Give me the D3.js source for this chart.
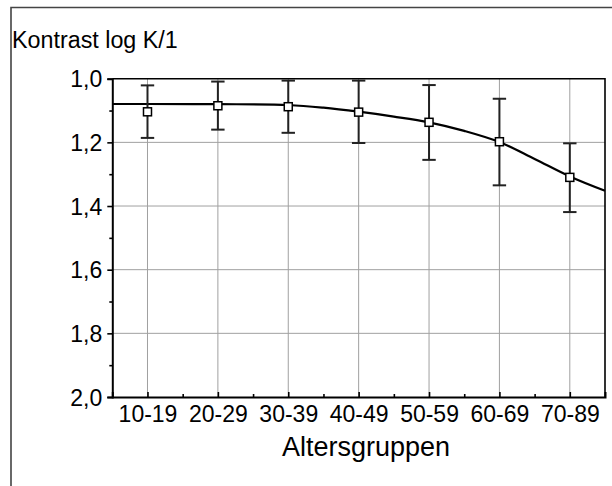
<!DOCTYPE html>
<html><head><meta charset="utf-8">
<script src="https://cdn.jsdelivr.net/npm/d3@7"></script>
<style>html,body{margin:0;padding:0;background:#fff;}svg{display:block;font-family:"Liberation Sans",Arial,sans-serif;}</style>
</head><body>
<svg id="c" width="612" height="486"></svg>
<script>
const categories = ["10-19","20-29","30-39","40-49","50-59","60-69","70-89"];
const means = [1.104, 1.085, 1.088, 1.105, 1.137, 1.198, 1.310];
const errLow = [1.021, 1.009, 1.006, 1.006, 1.020, 1.063, 1.203];
const errHigh = [1.186, 1.160, 1.170, 1.202, 1.255, 1.335, 1.419];
const fitX = [0.5, 1, 2, 3, 3.5, 4, 4.5, 5, 5.5, 6, 6.5, 7, 7.5];
const fitY = [1.0795, 1.0795, 1.080, 1.0826, 1.091, 1.1037, 1.119, 1.137, 1.164, 1.199, 1.252, 1.307, 1.352];
const yTicks = [1.0, 1.2, 1.4, 1.6, 1.8, 2.0];
const yMinor = [1.1, 1.3, 1.5, 1.7, 1.9];
const yGrid = [1.2, 1.4, 1.6, 1.8];
const xMinor = [1.5, 2.5, 3.5, 4.5, 5.5, 6.5];

const svg = d3.select("#c");
const L = 112.3, R = 605, T = 78.7, B = 397;
const x = d3.scaleLinear().domain([0.5, 7.5]).range([L, R]);
const y = d3.scaleLinear().domain([1.0, 2.0]).range([T, B]);
const fmt = v => d3.format(".1f")(v).replace(".", ",");
const FONT = "Liberation Sans, Arial, sans-serif";

// outer frame
svg.append("path").attr("d", `M11,486 L11,7.5 L612,7.5`).attr("fill","none").attr("stroke","#444").attr("stroke-width",1.6);

// title
svg.append("text").attr("x", 12).attr("y", 47.5).attr("font-size", 23.3).attr("fill","#000").text("Kontrast log K/1");

// grid
const g = svg.append("g");
g.selectAll(".gy").data(yGrid).join("line").attr("x1", L).attr("x2", R).attr("y1", d=>y(d)).attr("y2", d=>y(d)).attr("stroke","#a0a0a0").attr("stroke-width",1);
g.selectAll(".gx").data(categories).join("line").attr("x1",(d,i)=>x(i+1)).attr("x2",(d,i)=>x(i+1)).attr("y1",T).attr("y2",B).attr("stroke","#a0a0a0").attr("stroke-width",1);

// frame of plot (top/right)
svg.append("path").attr("d",`M${L},${T} L${R},${T} L${R},${B}`).attr("fill","none").attr("stroke","#000").attr("stroke-width",1.6);

// y axis
const yAxis = d3.axisLeft(y).tickValues(yTicks).tickFormat(fmt).tickSize(5).tickPadding(5);
const ya = svg.append("g").attr("transform",`translate(${L},0)`).call(yAxis);
ya.select(".domain").attr("stroke-width",2);
ya.selectAll(".tick line").attr("stroke-width",1.6);
ya.selectAll("text").attr("font-size",23).attr("font-family",FONT).attr("fill","#000").attr("dy","0.36em");
const yam = d3.axisLeft(y).tickValues(yMinor).tickFormat("").tickSize(3);
const yam2 = svg.append("g").attr("transform",`translate(${L},0)`).call(yam);
yam2.select(".domain").remove();
yam2.selectAll(".tick line").attr("stroke-width",1.6);

// x axis
const xAxis = d3.axisBottom(x).tickValues(d3.range(1,8)).tickFormat(d=>categories[d-1]).tickSize(-5).tickPadding(10);
const xa = svg.append("g").attr("transform",`translate(0,${B})`).call(xAxis);
xa.select(".domain").attr("stroke-width",2);
xa.selectAll(".tick line").attr("stroke-width",1.6);
xa.selectAll("text").attr("font-size",23).attr("font-family",FONT).attr("fill","#000").attr("y",null).attr("dy",null).attr("transform","translate(0,25.3)");
const xam = d3.axisBottom(x).tickValues(xMinor).tickFormat("").tickSize(-3);
const xam2 = svg.append("g").attr("transform",`translate(0,${B})`).call(xam);
xam2.select(".domain").remove();
xam2.selectAll(".tick line").attr("stroke-width",1.6);

// x axis title
svg.append("text").attr("x", 366).attr("y", 455.5).attr("text-anchor","middle").attr("font-size",27).attr("fill","#000").text("Altersgruppen");

// fit curve
const line = d3.line().x(d=>x(d[0])).y(d=>y(d[1])).curve(d3.curveCatmullRom.alpha(0.5));
svg.append("path").datum(fitX.map((v,i)=>[v,fitY[i]])).attr("d",line).attr("fill","none").attr("stroke","#000").attr("stroke-width",2.2);

// error bars
const eb = svg.append("g").attr("stroke","#222").attr("stroke-width",2);
categories.forEach((c,i)=>{
  const cx = x(i+1);
  eb.append("line").attr("x1",cx).attr("x2",cx).attr("y1",y(errLow[i])).attr("y2",y(errHigh[i]));
  eb.append("line").attr("x1",cx-6.7).attr("x2",cx+6.7).attr("y1",y(errLow[i])).attr("y2",y(errLow[i]));
  eb.append("line").attr("x1",cx-6.7).attr("x2",cx+6.7).attr("y1",y(errHigh[i])).attr("y2",y(errHigh[i]));
});

// markers
svg.selectAll(".m").data(means).join("rect").attr("x",(d,i)=>x(i+1)-4).attr("y",d=>y(d)-4).attr("width",8).attr("height",8).attr("fill","#fff").attr("stroke","#000").attr("stroke-width",1.5);
</script>
</body></html>
